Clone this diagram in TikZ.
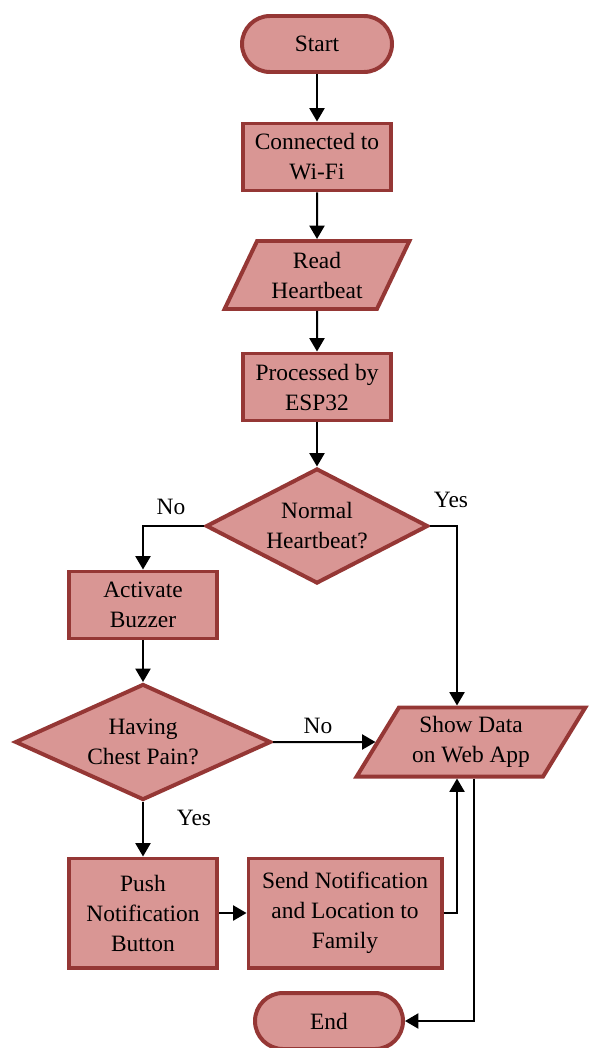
\documentclass[tikz,border=0pt]{standalone}
\usepackage{fontspec}
\setmainfont{Liberation Serif}
\usetikzlibrary{shapes.geometric,arrows.meta}
\definecolor{boxfill}{RGB}{217,150,148}
\definecolor{boxline}{RGB}{149,55,53}

\begin{document}
\begin{tikzpicture}[x=0.03cm,y=-0.03cm,
  font=\fontsize{20}{25.6}\selectfont,
  base/.style={draw=boxline,fill=boxfill,line width=3.4pt,align=center,inner sep=0pt},
  terminal/.style={base,rectangle,rounded corners=0.84cm,minimum width=4.5cm,minimum height=1.68cm},
  process/.style={base,rectangle,minimum width=4.45cm,minimum height=2.01cm},
  io/.style={base,trapezium,trapezium stretches=true},
  decision/.style={base,diamond},
  lbl/.style={inner sep=0pt},
  arr/.style={draw=black,line width=1.7pt,-{Triangle[length=0.4cm,width=0.45cm]}}]

  \useasboundingbox (0,0) rectangle (588,1048);

  \node[terminal] (start) at (317,44) {Start};
  \node[process] (wifi) at (317,157) {Connected to\\Wi-Fi};
  \node[io,trapezium left angle=62,trapezium right angle=118,
        minimum width=5.55cm,minimum height=2.04cm] (read) at (317,275) {Read\\Heartbeat};
  \node[process] (proc) at (317,387) {Processed by\\ESP32};
  \node[decision,aspect=1.93,minimum width=6.66cm,minimum height=3.45cm] (normal) at (317,526) {Normal\\Heartbeat?};
  \node[process] (buzz) at (143,605) {Activate\\Buzzer};
  \node[decision,aspect=2.2,minimum width=7.68cm,minimum height=3.48cm] (chest) at (143,742) {Having\\Chest Pain?};
  \node[io,trapezium left angle=56,trapezium right angle=124,
        minimum width=6.87cm,minimum height=2.07cm] (show) at (471,742) {Show Data\\on Web App};
  \node[process,minimum height=3.27cm] (push) at (143,913) {Push\\Notification\\Button};
  \node[process,minimum width=5.79cm,minimum height=3.27cm] (send) at (345,913) {Send Notification\\and Location to\\Family};
  \node[terminal,minimum width=4.44cm] (end) at (329,1021) {End};

  \node[lbl] (no1) at (171,507) {No};
  \node[lbl] (yes1) at (451,500) {Yes};
  \node[lbl] (no2) at (318,726) {No};
  \node[lbl] (yes2) at (194,818) {Yes};

  \draw[arr] (start) -- (wifi);
  \draw[arr] (wifi) -- (read);
  \draw[arr] (read) -- (proc);
  \draw[arr] (proc) -- (normal);
  \draw[arr] (normal.west) -| (buzz.north);
  \draw[arr] (normal.east) -| ([xshift=-0.42cm]show.north);
  \draw[arr] (buzz) -- (chest);
  \draw[arr] (chest.east) -- (show.west);
  \draw[arr] (chest) -- (push);
  \draw[arr] (push) -- (send);
  \draw[arr] (send.east) -| ([xshift=-0.42cm]show.south);
  \draw[arr] ([xshift=0.09cm]show.south) |- (end.east);
\end{tikzpicture}
\end{document}
